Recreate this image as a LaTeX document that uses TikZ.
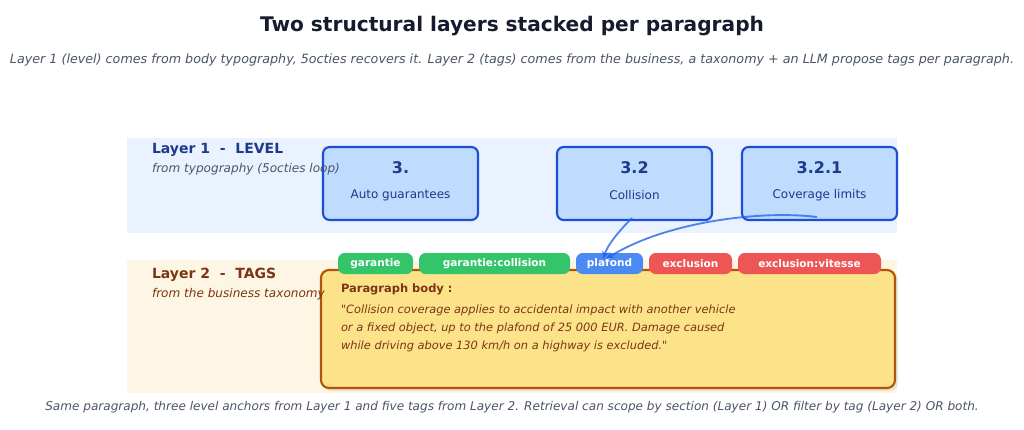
\documentclass[tikz,border=0pt]{standalone}
\usepackage{fontspec}
\setmainfont{DejaVu Sans}[Ligatures=TeXOff]
\usetikzlibrary{arrows.meta}
\definecolor{titlec}{HTML}{161B2E}
\definecolor{subc}{HTML}{4B5568}
\definecolor{bandA}{HTML}{EBF2FF}
\definecolor{bandB}{HTML}{FEF6E4}
\definecolor{lvfill}{HTML}{BFDBFE}
\definecolor{lvdraw}{HTML}{1D4ED8}
\definecolor{lvtext}{HTML}{1E3A8A}
\definecolor{brownt}{HTML}{7C3512}
\definecolor{parafill}{HTML}{FCE38A}
\definecolor{paradraw}{HTML}{B45309}
\definecolor{tgreen}{HTML}{34C46A}
\definecolor{tblue}{HTML}{4A8AF2}
\definecolor{tred}{HTML}{EE5555}
\definecolor{arrowc}{HTML}{2563EB}
\tikzset{
  txt/.style={inner sep=0pt, outer sep=0pt},
  lvbox/.style={draw=lvdraw, line width=1.6pt, fill=lvfill, rounded corners=5pt,
    minimum width=116.25pt, minimum height=54.75pt, inner sep=0pt},
  lvnum/.style={txt, font=\bfseries\fontsize{12}{14}\selectfont, text=lvtext},
  lvlab/.style={txt, font=\fontsize{9.0}{11}\selectfont, text=lvtext},
  tagbox/.style={rounded corners=5pt, minimum height=15.75pt, inner sep=0pt,
    text=white, font=\bfseries\fontsize{7.9}{10}\selectfont},
  linkarrow/.style={draw=arrowc, draw opacity=0.78, line width=1.4pt,
    -{Stealth[length=6pt,width=5pt]}},
  paraline/.style={txt, anchor=west, font=\itshape\fontsize{8.55}{11}\selectfont, text=brownt},
}
\begin{document}
\begin{tikzpicture}[x=0.75pt,y=-0.75pt]
\useasboundingbox (0,0) rectangle (1024,429);
\fill[white] (0,0) rectangle (1024,429);
% title
\node[txt, font=\bfseries\fontsize{15.1}{18}\selectfont, text=titlec] (title) at (512,26) {Two structural layers stacked per paragraph};
\node[txt, font=\itshape\fontsize{9.53}{12}\selectfont, text=subc] (sub) at (512,60) {Layer 1 (level) comes from body typography, 5octies recovers it. Layer 2 (tags) comes from the business, a taxonomy + an LLM propose tags per paragraph.};
% bands
\fill[bandA] (127,138) rectangle (897,233);
\fill[bandB] (127,260) rectangle (897,393);
% level boxes
\node[lvbox] (b1) at (400.5,183.5) {};
\node[lvbox] (b2) at (634.5,183.5) {};
\node[lvbox] (b3) at (819.5,183.5) {};
\node[lvnum] (b1n) at (400.5,168) {3.};
\node[lvlab] (b1l) at (400.5,195) {Auto guarantees};
\node[lvnum] (b2n) at (634.5,168) {3.2};
\node[lvlab] (b2l) at (634.5,195) {Collision};
\node[lvnum] (b3n) at (819.5,168) {3.2.1};
\node[lvlab] (b3l) at (819.5,195) {Coverage limits};
% layer 1 label
\node[txt, anchor=west, font=\bfseries\fontsize{10.5}{12}\selectfont, text=lvtext] (l1) at (152,150) {Layer 1\ \ -\ \ LEVEL};
\node[txt, anchor=west, font=\itshape\fontsize{9.05}{11}\selectfont, text=subc] (l1s) at (152,169.5) {from typography (5octies loop)};
% paragraph box
\fill[black, opacity=0.08, rounded corners=6pt] (323,272) rectangle (898,391);
\node[draw=paradraw, line width=1.6pt, fill=parafill, rounded corners=6pt,
  minimum width=430.5pt, minimum height=88.5pt, inner sep=0pt] (para) at (608,329) {};
\node[txt, anchor=west, font=\bfseries\fontsize{8.6}{11}\selectfont, text=brownt] (ph) at (341,289.5) {Paragraph body :};
\node[paraline] (p1) at (341,310.5) {"Collision coverage applies to accidental impact with another vehicle};
\node[paraline] (p2) at (341,328.5) {or a fixed object, up to the plafond of 25 000 EUR. Damage caused};
\node[paraline] (p3) at (341,346.5) {while driving above 130 km/h on a highway is excluded."};
% layer 2 label
\node[txt, anchor=west, font=\bfseries\fontsize{10.5}{12}\selectfont, text=brownt] (l2) at (152,275) {Layer 2\ \ -\ \ TAGS};
\node[txt, anchor=west, font=\itshape\fontsize{9.05}{11}\selectfont, text=brownt] (l2s) at (152,294.5) {from the business taxonomy};
% tags
\node[tagbox, fill=tgreen, minimum width=56.25pt] (t1) at (375.5,263.5) {garantie};
\node[tagbox, fill=tgreen, minimum width=113.25pt] (t2) at (494.5,263.5) {garantie:collision};
\node[tagbox, fill=tblue, minimum width=50.25pt] (t3) at (609.5,263.5) {plafond};
\node[tagbox, fill=tred, minimum width=62.25pt] (t4) at (690.5,263.5) {exclusion};
\node[tagbox, fill=tred, minimum width=107.25pt] (t5) at (809.5,263.5) {exclusion:vitesse};
% arrows
\coordinate (s1) at (632,218);
\coordinate (s2) at (817,217);
\coordinate (e1) at (603,259);
\coordinate (e2) at (606,259);
\draw[linkarrow] (s1) .. controls (620,230) and (608,244) .. (e1);
\draw[linkarrow] (s2) .. controls (760,210) and (665,222) .. (e2);
% caption
\node[txt, font=\itshape\fontsize{9.05}{11}\selectfont, text=subc] (cap) at (512,407) {Same paragraph, three level anchors from Layer 1 and five tags from Layer 2. Retrieval can scope by section (Layer 1) OR filter by tag (Layer 2) OR both.};
\end{tikzpicture}
\end{document}
